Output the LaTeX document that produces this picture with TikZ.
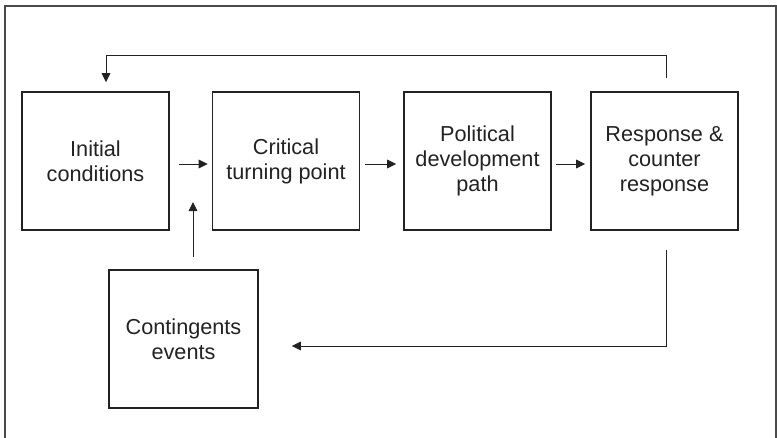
\documentclass[tikz,border=0pt]{standalone}
\usepackage{fontspec}
\setmainfont{Liberation Sans}
\usetikzlibrary{arrows.meta}
\definecolor{ink}{HTML}{222222}
\definecolor{rim}{HTML}{4A4A4A}

\begin{document}
\begin{tikzpicture}[line join=miter,x=0.03cm,y=-0.03cm,
    stage/.style={draw=ink,line width=1.4pt,minimum width=4.41cm,minimum height=4.14cm,
        inner sep=0pt,align=center,text=ink,font=\fontsize{18.5}{21.5}\selectfont},
    flow/.style={draw=ink,line width=0.8pt,-{Triangle[length=0.27cm,width=0.26cm]}}]
    \useasboundingbox (0,0) rectangle (777,437);
    \draw [rim,line width=1.3pt] (5,445) -- (5,6) -- (776,6) -- (776,445);
    \node [stage] (init) at (95.5,161) {Initial\\conditions};
    \node [stage] (crit) at (286,161) {Critical\\turning point};
    \node [stage] (path) at (477.5,161) {Political\\development\\path};
    \node [stage] (resp) at (664.5,161) {Response \&\\counter\\response};
    \node [stage,minimum width=4.47cm] (cont) at (183.5,339) {Contingents\\events};
    \coordinate (join) at (193,202);
    \draw [flow] ([shift={(9,3)}]init.east) -- ([shift={(-4,3)}]crit.west);
    \draw [flow] ([shift={(5,3)}]crit.east) -- ([shift={(-7,3)}]path.west);
    \draw [flow] ([shift={(4,3)}]path.east) -- ([shift={(-5,3)}]resp.west);
    \draw [flow] ([shift={(1.5,-13)}]resp.north) -- ++(0,-23) -| ([shift={(10.5,-9)}]init.north);
    \draw [flow] ([shift={(9.5,-12)}]cont.north) -- (join);
    \draw [flow] ([shift={(1.5,19)}]resp.south) |- ([shift={(33,7)}]cont.east);
\end{tikzpicture}
\end{document}
